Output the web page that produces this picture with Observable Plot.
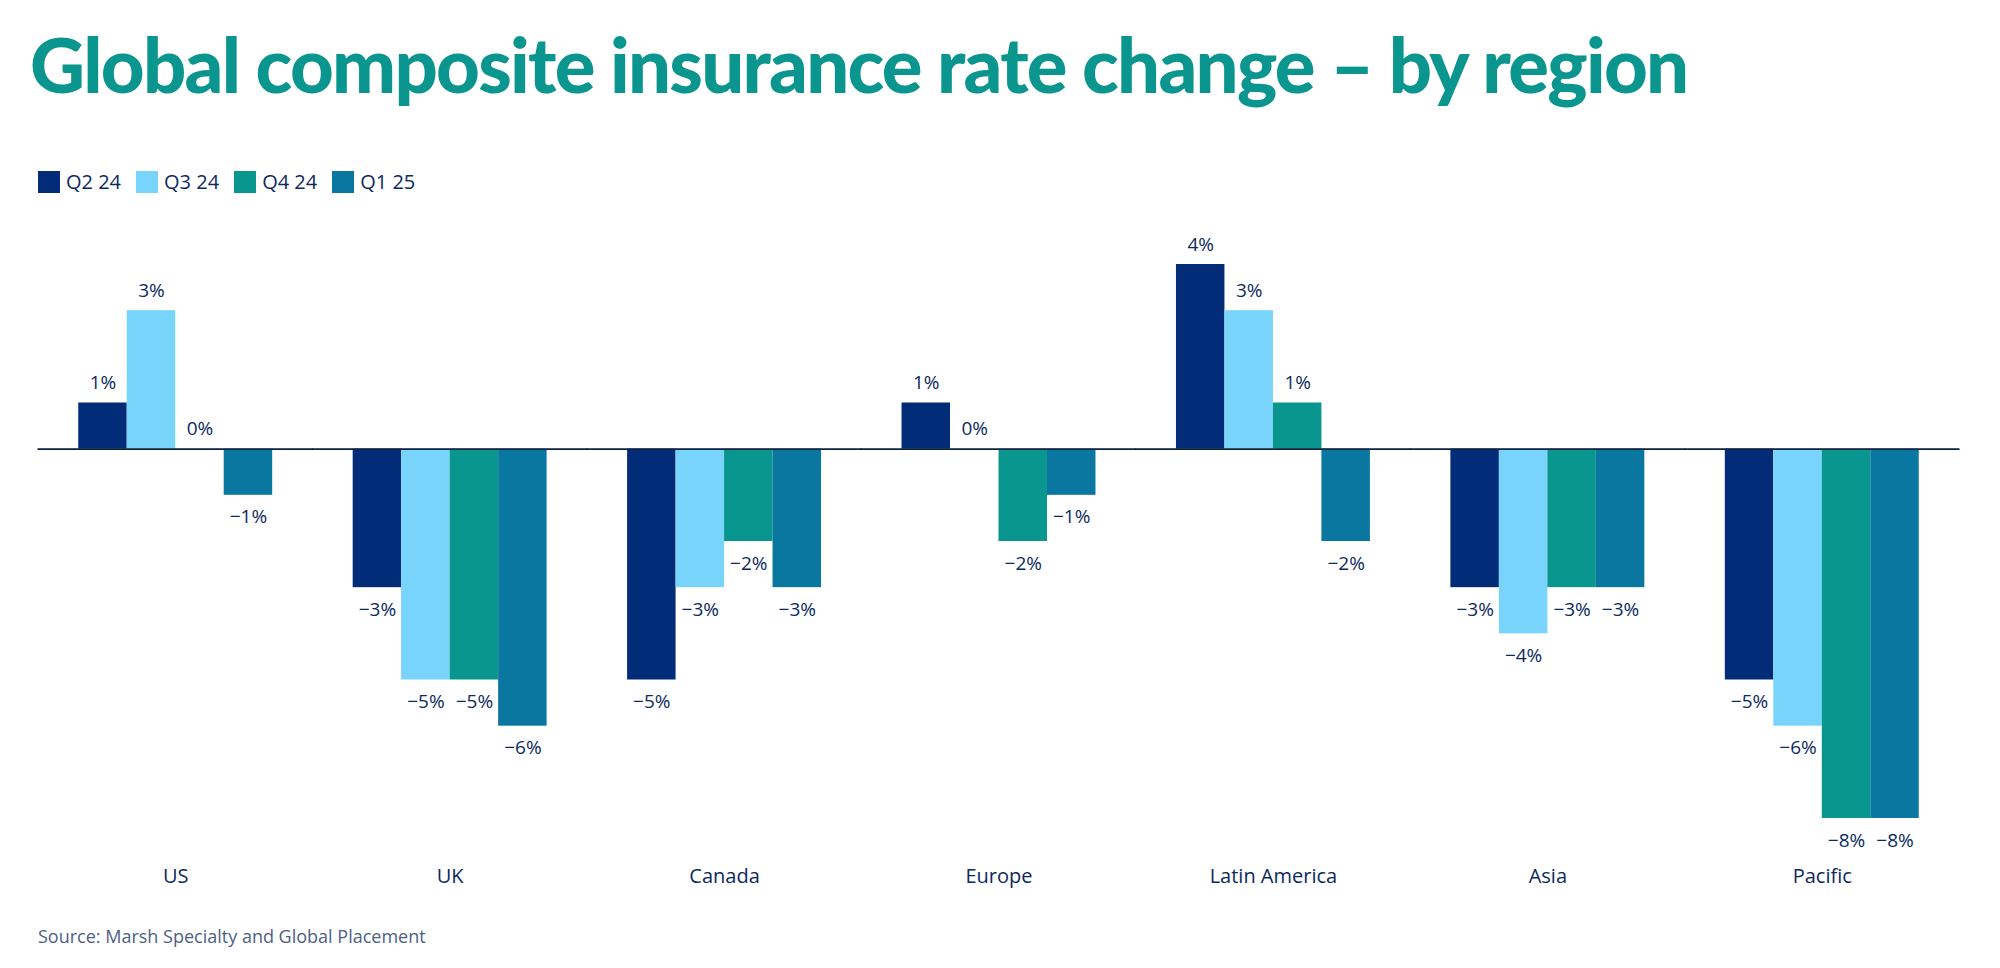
<!DOCTYPE html>
<html>
<head>
<meta charset="utf-8">
<script src="https://cdn.jsdelivr.net/npm/d3@7"></script>
<script src="https://cdn.jsdelivr.net/npm/@observablehq/plot@0.6"></script>
<style>
  html, body { margin: 0; padding: 0; background: #fff; }
  #page { position: relative; width: 2000px; height: 968px; overflow: hidden; font-family: "Open Sans", "Noto Sans", sans-serif; }
  #title { position: absolute; left: 30px; top: 26px; margin: 0; font-family: Lato, "Open Sans", sans-serif; font-weight: 900; font-size: 76px; line-height: 1; color: #0a968f; letter-spacing: -1.75px; white-space: nowrap; }
  #legend { position: absolute; left: 38px; top: 168px; display: flex; align-items: center; font-size: 20px; color: #0c2a5e; }
  .item { display: flex; align-items: center; margin-right: 15px; }
  .swatch { width: 22px; height: 22px; margin-right: 6px; }
  #chart { position: absolute; left: 0; top: 200px; }
  #caption { position: absolute; left: 38px; top: 924px; font-size: 18px; color: #4d6185; }
</style>
</head>
<body>
<div id="page">
  <h1 id="title">Global composite insurance rate change – by region</h1>
  <div id="legend"></div>
  <div id="chart"></div>
  <div id="caption">Source: Marsh Specialty and Global Placement</div>
</div>
<script>
const regions = ["US", "UK", "Canada", "Europe", "Latin America", "Asia", "Pacific"];
const quarters = ["Q2 24", "Q3 24", "Q4 24", "Q1 25"];
const colors = ["#022c77", "#78d4fb", "#08968f", "#0a77a0"];
const q2_24 = [1, -3, -5, 1, 4, -3, -5];
const q3_24 = [3, -5, -3, 0, 3, -4, -6];
const q4_24 = [0, -5, -2, -2, 1, -3, -8];
const q1_25 = [-1, -6, -3, -1, -2, -3, -8];

const series = [q2_24, q3_24, q4_24, q1_25];
const data = [];
regions.forEach((r, i) => {
  quarters.forEach((q, j) => data.push({region: r, quarter: q, value: series[j][i]}));
});

const fmt = v => (v < 0 ? "\u2212" + Math.abs(v) : String(v)) + "%";
const textColor = "#0c2a5e";

// legend
const legend = document.getElementById("legend");
quarters.forEach((q, j) => {
  const it = document.createElement("div");
  it.className = "item";
  it.innerHTML = `<div class="swatch" style="background:${colors[j]}"></div><span>${q}</span>`;
  legend.appendChild(it);
});

const chart = Plot.plot({
  width: 2000,
  height: 700,
  marginLeft: 38,
  marginRight: 41,
  marginTop: 64,
  marginBottom: 82,
  style: {fontFamily: "'Open Sans', 'Noto Sans', sans-serif", fontSize: "20px", color: textColor, background: "transparent"},
  fx: {domain: regions, paddingInner: 0, paddingOuter: 0, round: false, axis: "bottom", tickSize: 0, tickPadding: 50, label: null},
  x: {domain: quarters, paddingInner: 0, paddingOuter: 0.83, round: false, axis: null},
  y: {domain: [-8, 4], axis: null},
  color: {domain: quarters, range: colors},
  marks: [
    Plot.barY(data, {fx: "region", x: "quarter", y: "value", fill: "quarter", inset: 0}),
    Plot.ruleY([0], {stroke: "#0c2340", strokeWidth: 1.6, insetLeft: -0.5, insetRight: -0.5}),
    Plot.text(data.filter(d => d.value >= 0), {fx: "region", x: "quarter", y: "value", text: d => fmt(d.value), dy: -20, fill: textColor, fontSize: 19}),
    Plot.text(data.filter(d => d.value < 0), {fx: "region", x: "quarter", y: "value", text: d => fmt(d.value), dy: 22, fill: textColor, fontSize: 19})
  ]
});
document.getElementById("chart").appendChild(chart);
</script>
</body>
</html>
